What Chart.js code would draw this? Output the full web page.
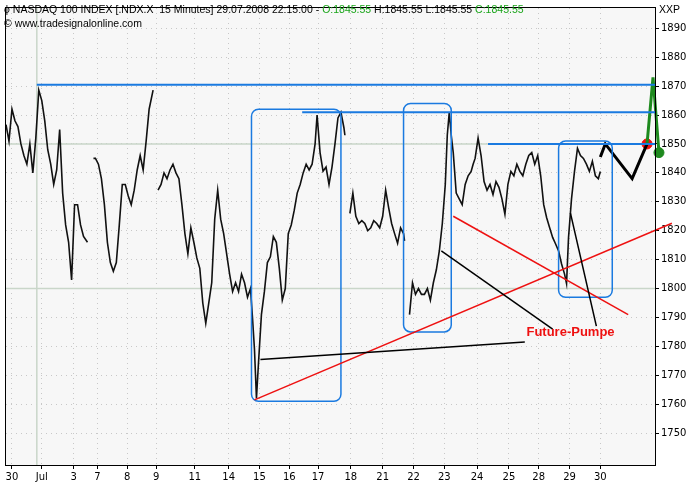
<!DOCTYPE html>
<html>
<head>
<meta charset="utf-8">
<script src="https://cdn.jsdelivr.net/npm/chart.js@4/dist/chart.umd.min.js"></script>
<style>
  body { margin: 0; background: #fff; }
  #wrap { position: relative; width: 693px; height: 483px; }
  .kopf { position: absolute; left: 4px; font: 10.5px "Liberation Sans", Arial, sans-serif; color: #000; white-space: nowrap; }
  .gruen { color: #1aa51a; }
</style>
</head>
<body>
<div id="wrap">
  <canvas id="chart" width="693" height="483"></canvas>
  <div class="kopf" style="top:3px">&#x03D5; NASDAQ 100 INDEX [.NDX.X &nbsp;15 Minutes] 29.07.2008 22:15:00 - <span class="gruen">O:1845.55</span> H:1845.55 L:1845.55 <span class="gruen">C:1845.55</span></div>
  <div class="kopf" style="top:17px">© www.tradesignalonline.com</div>
  <div class="kopf" style="top:3px;left:659px">XXP</div>
</div>
<script>
// Tageslabels (Zeitachse in Slots)
const tage = ["30","Jul","3","7","8","9","11","14","15","16","17","18","21","22","23","24","25","28","29","30"];
const tagSlot = [6,36,68,92,122,151,190,224,255,285,314,347,379,410,441,474,506,536,567,598];
const yTicks = [1750,1760,1770,1780,1790,1800,1810,1820,1830,1840,1850,1860,1870,1880,1890];

// Kursverlauf (Slot, Schlusskurs) - null = Sitzungslücke
const kursSlot = [0,3,6,9,12,15,18,21,24,27,30,33,36,39,42,45,48,51,54,57,60,63,66,69,72,75,78,82,84,
  88,90,93,96,99,102,105,108,111,114,117,120,123,126,129,132,135,138,141,144,148,150,
  153,156,159,162,165,168,171,174,177,180,183,186,189,192,195,198,201,204,207,210,213,216,219,222,225,228,231,234,237,240,243,246,248,250,252,254,257,260,263,266,269,272,275,278,281,284,287,290,293,296,299,302,305,308,311,313,316,319,322,325,328,331,334,337,340,341,
  343,346,349,352,355,358,361,364,367,370,373,376,379,382,385,388,391,394,397,400,401,
  403,406,409,412,415,418,421,424,427,430,433,436,439,442,444,446,448,450,453,456,459,462,465,468,470,472,475,478,481,484,487,490,493,496,499,502,505,508,511,514,517,520,523,526,529,532,535,538,541,544,547,550,553,556,559,562,564,566,569,572,575,578,581,584,587,590,593,596,598];
const kurs = [1856.7,1851,1862,1858,1856,1850,1846,1843,1850,1840,1852,1868.6,1865,1858,1848,1843,1836,1841,1855,1833,1822,1816,1803,1829,1829,1822,1818,1816,null,
  1845,1845,1843,1838,1829,1816,1809,1806,1809,1822,1836,1836,1832,1829,1834,1841,1846,1841,1851,1862,1868.6,null,
  1834,1836,1840,1838,1841,1843,1840,1838,1829,1819,1812,1821,1816,1810.6,1807,1795,1788,1795,1802,1824,1834,1824,1819,1812,1805,1799,1802,1799,1805,1802,1797,1800,1790,1779,1762,1774,1791,1799,1809,1811,1818,1816,1807,1796,1800,1819,1822,1827,1833,1836,1840,1843,1841,1843,1850,1860,1847,1840.6,1842,1836,1842,1850,1859,1861,1855.6,1853,null,
  1826,1833,1825,1822.5,1823.5,1822.5,1820,1821,1823.5,1822.5,1821,1825,1834,1828,1822.5,1819,1815.7,1821,1819,1816.5,null,
  1791,1802,1798,1800,1798,1798,1800,1796,1802,1806.5,1813,1822.5,1836,1853,1861,1853,1847,1833,1831,1829,1836,1839,1840.5,1843,1845,1852,1846,1837,1834,1836,1832.5,1837,1835,1831,1825.7,1836,1840.5,1839,1843,1840.5,1839,1843,1846,1847,1843,1846,1839,1829,1824.5,1821,1817.7,1815.4,1813,1808.5,1805,1801.7,1817.7,1831,1840.5,1848.5,1846,1845,1843,1840.5,1844,1839,1838,1840.5,1843,1845.5];

// Prognose
const progSlot = [598,603,630,645];
const progKurs = [1845.5,1850,1838,1850];
const gruenSlot = [645,651,657];
const gruenKurs = [1850,1873,1847];

// Marken
const hLinien = [[31,1870.5],[298,1861],[485,1850]];
const boxen = [[247,1862,337,1761],[400,1864,448,1785],[556,1851,610,1797]];
const roteLinien = [[250,1761.5,670,1822.6],[450,1825,626,1791]];
const schwarzeLinien = [[256,1775.5,522,1781.5],[438,1813,550,1786],[568,1826,594,1787]];

const xy = (xs, ys) => xs.map((x, i) => ({ x: x, y: ys[i] }));

const zeichnen = {
  id: "zeichnen",
  beforeDatasetsDraw(c) {
    const { ctx, chartArea: a, scales: { x, y } } = c;
    ctx.save();
    ctx.strokeStyle = "#c9d6c9";
    ctx.lineWidth = 1.5;
    [1800, 1850].forEach(v => {
      const py = y.getPixelForValue(v);
      ctx.beginPath(); ctx.moveTo(a.left, py); ctx.lineTo(a.right, py); ctx.stroke();
    });
    const px = x.getPixelForValue(31);
    ctx.beginPath(); ctx.moveTo(px, a.top); ctx.lineTo(px, a.bottom); ctx.stroke();
    ctx.restore();
  },
  afterDatasetsDraw(c) {
    const { ctx, chartArea: a, scales: { x, y } } = c;
    ctx.save();
    const X = v => x.getPixelForValue(v), Y = v => y.getPixelForValue(v);
    ctx.strokeStyle = "#1a7ae0";
    ctx.lineWidth = 2;
    hLinien.forEach(h => {
      ctx.beginPath(); ctx.moveTo(X(h[0]), Y(h[1])); ctx.lineTo(a.right, Y(h[1])); ctx.stroke();
    });
    ctx.lineWidth = 1.5;
    boxen.forEach(b => {
      ctx.beginPath();
      ctx.roundRect(X(b[0]), Y(b[1]), X(b[2]) - X(b[0]), Y(b[3]) - Y(b[1]), 7);
      ctx.stroke();
    });
    ctx.strokeStyle = "#ee1111";
    roteLinien.forEach(l => {
      ctx.beginPath(); ctx.moveTo(X(l[0]), Y(l[1])); ctx.lineTo(X(l[2]), Y(l[3])); ctx.stroke();
    });
    ctx.strokeStyle = "#000";
    schwarzeLinien.forEach(l => {
      ctx.beginPath(); ctx.moveTo(X(l[0]), Y(l[1])); ctx.lineTo(X(l[2]), Y(l[3])); ctx.stroke();
    });
    ctx.fillStyle = "#ee1111";
    ctx.font = "bold 13px 'Liberation Sans', Arial, sans-serif";
    ctx.textAlign = "center";
    ctx.fillText("Future-Pumpe", X(568), Y(1783.5));
    // Rahmen
    ctx.strokeStyle = "#000";
    ctx.lineWidth = 1;
    ctx.strokeRect(a.left - 0.5, a.top - 0.5, a.right - a.left + 1, a.bottom - a.top + 1);
    ctx.restore();
  }
};

new Chart(document.getElementById("chart"), {
  type: "line",
  data: {
    datasets: [
      { data: xy(kursSlot, kurs), borderColor: "#111", borderWidth: 1.6, pointRadius: 0, spanGaps: false, tension: 0 },
      { data: xy(progSlot, progKurs), borderColor: "#000", borderWidth: 3, pointRadius: 0, tension: 0 },
      { data: xy(gruenSlot, gruenKurs), borderColor: "#1e8a1e", borderWidth: 3, pointRadius: 0, tension: 0 },
      { data: [{ x: 645, y: 1850 }], borderColor: "#ee1111", backgroundColor: "#ee1111", pointRadius: 5, showLine: false },
      { data: [{ x: 657, y: 1847 }], borderColor: "#1e8a1e", backgroundColor: "#1e8a1e", pointRadius: 5, showLine: false }
    ]
  },
  options: {
    responsive: false,
    animation: false,
    clip: false,
    layout: { padding: { left: 2, top: 2 } },
    plugins: { legend: { display: false }, tooltip: { enabled: false } },
    scales: {
      x: {
        type: "linear", min: 0, max: 653,
        afterBuildTicks: s => { s.ticks = tagSlot.map(v => ({ value: v })); },
        afterFit: s => { s.height = 18; },
        ticks: { autoSkip: false, maxRotation: 0, padding: 2, color: "#000",
          font: { size: 10, family: "'DejaVu Sans', sans-serif" },
          callback: (v, i) => tage[i] },
        grid: { color: "#c8c8c8", tickColor: "#000", tickLength: 4 },
        border: { dash: [1, 4], display: false }
      },
      y: {
        position: "right", min: 1739, max: 1897,
        afterBuildTicks: s => { s.ticks = yTicks.map(v => ({ value: v })); },
        afterFit: s => { s.width = 38; },
        ticks: { color: "#000", padding: 2, font: { size: 10, family: "'DejaVu Sans', sans-serif" },
          callback: v => String(v) },
        grid: { color: "#c8c8c8", tickColor: "#000", tickLength: 4 },
        border: { dash: [1, 4], display: false }
      }
    }
  },
  plugins: [zeichnen, {
    id: "hg",
    beforeDraw(c) {
      const { ctx, chartArea: a } = c;
      ctx.save(); ctx.fillStyle = "#f7f7f7";
      ctx.fillRect(a.left, a.top, a.right - a.left, a.bottom - a.top); ctx.restore();
    }
  }]
});
</script>
</body>
</html>
